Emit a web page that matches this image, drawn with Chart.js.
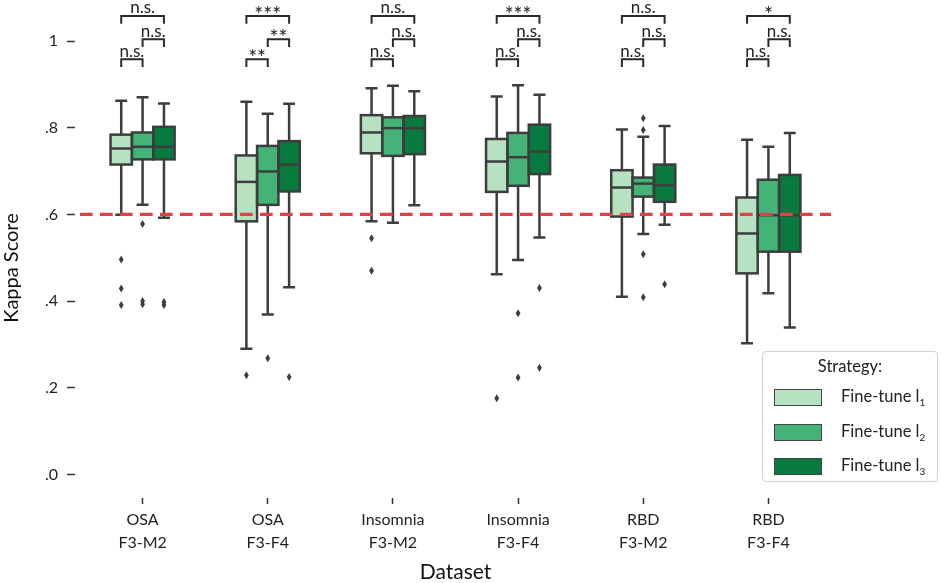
<!DOCTYPE html>
<html>
<head>
<meta charset="utf-8">
<script src="https://cdn.jsdelivr.net/npm/chart.js@4.4.1/dist/chart.umd.min.js"></script>
<style>
  html, body { margin: 0; padding: 0; background: #fff; }
  #wrap { position: relative; width: 941px; height: 583px; }
  canvas { display: block; }
  #legend {
    position: absolute; left: 762px; top: 351px; width: 176px; height: 131px;
    box-sizing: border-box; border: 1px solid #d2d2d2; border-radius: 4px;
    background: #fff; font-family: Lato, sans-serif; font-size: 16.5px; color: #222;
  }
  #legend .ttl { position: absolute; left: 0; right: 0; top: 4px; text-align: center; }
  #legend .row { position: absolute; left: 11px; height: 17px; }
  #legend .sw { position: absolute; left: 0; top: 0; width: 46px; height: 15px; border: 1px solid #444; }
  #legend .lb { position: absolute; left: 67px; top: -3px; white-space: nowrap; }
  #legend sub { font-size: 10px; }
</style>
</head>
<body>
<div id="wrap">
  <canvas id="kappaChart" width="941" height="583"></canvas>
  <div id="legend"><div class="ttl">Strategy:</div></div>
</div>
<script>
// categories (two-line tick labels)
const datasetNames = [['OSA', 'F3-M2'], ['OSA', 'F3-F4'], ['Insomnia', 'F3-M2'],
                      ['Insomnia', 'F3-F4'], ['RBD', 'F3-M2'], ['RBD', 'F3-F4']];
const strategyNames = ['1', '2', '3'];
// per dataset: [lower whisker, Q1, median, Q3, upper whisker]
const boxL1 = [
  [0.599, 0.715, 0.752, 0.784, 0.862],
  [0.290, 0.584, 0.675, 0.736, 0.860],
  [0.584, 0.741, 0.789, 0.829, 0.891],
  [0.462, 0.652, 0.722, 0.774, 0.872],
  [0.410, 0.595, 0.662, 0.702, 0.796],
  [0.303, 0.464, 0.556, 0.639, 0.772]
];
const boxL2 = [
  [0.622, 0.727, 0.756, 0.789, 0.870],
  [0.369, 0.622, 0.699, 0.758, 0.832],
  [0.581, 0.735, 0.799, 0.824, 0.897],
  [0.495, 0.666, 0.732, 0.788, 0.898],
  [0.555, 0.641, 0.671, 0.685, 0.779],
  [0.418, 0.514, 0.598, 0.680, 0.756]
];
const boxL3 = [
  [0.592, 0.727, 0.756, 0.802, 0.856],
  [0.432, 0.653, 0.715, 0.769, 0.855],
  [0.621, 0.739, 0.799, 0.827, 0.884],
  [0.547, 0.693, 0.745, 0.807, 0.876],
  [0.576, 0.629, 0.667, 0.715, 0.804],
  [0.339, 0.514, 0.598, 0.691, 0.788]
];
// outliers per dataset
const outL1 = [[0.496, 0.429, 0.391], [0.229], [0.545, 0.470], [0.176], [], []];
const outL2 = [[0.578, 0.400, 0.393], [0.268], [], [0.372, 0.224], [0.822, 0.795, 0.508, 0.409], []];
const outL3 = [[0.398, 0.391], [0.225], [], [0.430, 0.246], [0.439], []];
// significance marks: l1 vs l2, l2 vs l3, l1 vs l3
const sig12 = ['n.s.', '**', 'n.s.', 'n.s.', 'n.s.', 'n.s.'];
const sig23 = ['n.s.', '**', 'n.s.', 'n.s.', 'n.s.', 'n.s.'];
const sig13 = ['n.s.', '***', 'n.s.', '***', 'n.s.', '*'];
const yTicks = [0, 0.2, 0.4, 0.6, 0.8, 1];
const threshold = 0.6;

const colors = ['#b6e2c2', '#44b377', '#077a3f'];
const edge = '#3d3d3d';
const boxes = [boxL1, boxL2, boxL3];
const outliers = [outL1, outL2, outL3];

Chart.defaults.font.family = 'Lato, sans-serif';
Chart.defaults.color = '#222';

// legend (html)
const legend = document.getElementById('legend');
strategyNames.forEach((n, i) => {
  const row = document.createElement('div');
  row.className = 'row';
  row.style.top = (37 + i * 34.5) + 'px';
  row.innerHTML = `<span class="sw" style="background:${colors[i]}"></span><span class="lb">Fine-tune l<sub>${n}</sub></span>`;
  legend.appendChild(row);
});

const boxParts = {
  id: 'boxParts',
  beforeDatasetsDraw(chart) {
    // whiskers + caps
    const { ctx, scales: { y } } = chart;
    ctx.save();
    ctx.strokeStyle = edge;
    ctx.lineWidth = 2.5;
    boxes.forEach((rows, s) => {
      chart.getDatasetMeta(s).data.forEach((bar, j) => {
        const r = rows[j];
        const half = bar.width * 0.28;
        ctx.beginPath();
        ctx.moveTo(bar.x, y.getPixelForValue(r[3]));
        ctx.lineTo(bar.x, y.getPixelForValue(r[4]));
        ctx.moveTo(bar.x, y.getPixelForValue(r[1]));
        ctx.lineTo(bar.x, y.getPixelForValue(r[0]));
        ctx.moveTo(bar.x - half, y.getPixelForValue(r[4]));
        ctx.lineTo(bar.x + half, y.getPixelForValue(r[4]));
        ctx.moveTo(bar.x - half, y.getPixelForValue(r[0]));
        ctx.lineTo(bar.x + half, y.getPixelForValue(r[0]));
        ctx.stroke();
      });
    });
    ctx.restore();
  },
  afterDatasetsDraw(chart) {
    // box outline, median, outlier diamonds
    const { ctx, scales: { y } } = chart;
    ctx.save();
    ctx.strokeStyle = edge;
    ctx.fillStyle = edge;
    ctx.lineWidth = 2.5;
    boxes.forEach((rows, s) => {
      chart.getDatasetMeta(s).data.forEach((bar, j) => {
        const r = rows[j];
        const x0 = bar.x - bar.width / 2;
        const yq3 = y.getPixelForValue(r[3]);
        const yq1 = y.getPixelForValue(r[1]);
        ctx.strokeRect(x0, yq3, bar.width, yq1 - yq3);
        const ym = y.getPixelForValue(r[2]);
        ctx.beginPath();
        ctx.moveTo(x0, ym);
        ctx.lineTo(x0 + bar.width, ym);
        ctx.stroke();
        outliers[s][j].forEach(v => {
          const py = y.getPixelForValue(v);
          ctx.beginPath();
          ctx.moveTo(bar.x, py - 4);
          ctx.lineTo(bar.x + 2.4, py);
          ctx.lineTo(bar.x, py + 4);
          ctx.lineTo(bar.x - 2.4, py);
          ctx.closePath();
          ctx.fill();
        });
      });
    });
    ctx.restore();
  },
  afterDraw(chart) {
    const { ctx, chartArea, scales: { y } } = chart;
    ctx.save();
    // chance-level line
    ctx.strokeStyle = '#df4249';
    ctx.lineWidth = 3.3;
    ctx.setLineDash([12.7, 7.3]);
    const ty = y.getPixelForValue(threshold);
    ctx.beginPath();
    ctx.moveTo(chartArea.left, ty);
    ctx.lineTo(chartArea.right, ty);
    ctx.stroke();
    ctx.setLineDash([]);

    // significance brackets
    const m = [0, 1, 2].map(s => chart.getDatasetMeta(s).data);
    const pairs = [[0, 1, sig12, 0.958], [1, 2, sig23, 1.004], [0, 2, sig13, 1.058]];
    ctx.strokeStyle = '#2a2a2a';
    ctx.fillStyle = '#222';
    ctx.lineWidth = 2;
    ctx.textAlign = 'center';
    ctx.textBaseline = 'alphabetic';
    datasetNames.forEach((_, j) => {
      pairs.forEach(([a, b, sig, lvl]) => {
        const xa = m[a][j].x, xb = m[b][j].x;
        const yt = y.getPixelForValue(lvl);
        const yl = y.getPixelForValue(lvl - 0.018);
        ctx.beginPath();
        ctx.moveTo(xa, yl);
        ctx.lineTo(xa, yt);
        ctx.lineTo(xb, yt);
        ctx.lineTo(xb, yl);
        ctx.stroke();
        const stars = sig[j] !== 'n.s.';
        ctx.font = stars ? '21px Lato' : '17px Lato';
        ctx.fillText(sig[j], (xa + xb) / 2, yt + (stars ? 6 : -2.5));
      });
    });

    // y title, centred like the original axes box
    ctx.translate(12, 268);
    ctx.rotate(-Math.PI / 2);
    ctx.font = '20px Lato';
    ctx.textBaseline = 'middle';
    ctx.fillStyle = '#111';
    ctx.fillText('Kappa Score', 0, 0);
    ctx.restore();
  }
};

const fmtTick = v => (Math.abs(v - 1) < 1e-9 ? '1' : v.toFixed(1).replace(/^0/, ''));

new Chart(document.getElementById('kappaChart').getContext('2d'), {
  type: 'bar',
  data: {
    labels: datasetNames,
    datasets: boxes.map((rows, i) => ({
      label: 'Fine-tune l' + strategyNames[i],
      data: rows.map(r => [r[1], r[3]]),
      backgroundColor: colors[i],
      borderWidth: 0,
      categoryPercentage: 0.512,
      barPercentage: 1
    }))
  },
  options: {
    responsive: false,
    animation: false,
    events: [],
    layout: { padding: { top: 4, right: 110, left: 0, bottom: 0 } },
    plugins: { legend: { display: false }, tooltip: { enabled: false } },
    scales: {
      x: {
        grid: {
          display: true, offset: false, drawOnChartArea: false, drawTicks: true,
          tickLength: 14, tickWidth: 1.5, tickColor: '#333',
          tickBorderDash: [0, 8, 6, 100]
        },
        border: { display: false },
        ticks: { font: { size: 16, lineHeight: 1.44 }, color: '#222', padding: 4.5, maxRotation: 0 },
        title: { display: true, text: 'Dataset', font: { size: 21, lineHeight: 1 }, color: '#111', padding: 0 },
        afterFit: s => { s.height = 93; s.paddingLeft = 0; s.paddingRight = 0; }
      },
      y: {
        min: -0.0358,
        max: 1.0854,
        afterBuildTicks: s => { s.ticks = yTicks.map(v => ({ value: v })); },
        grid: {
          display: true, drawOnChartArea: false, drawTicks: true,
          tickLength: 13, tickWidth: 1.5, tickColor: '#333',
          tickBorderDash: [8, 100]
        },
        border: { display: false },
        ticks: { font: { size: 16 }, color: '#222', padding: 9, callback: v => fmtTick(v) },
        afterFit: s => { s.width = 80; s.paddingTop = 0; s.paddingBottom = 0; }
      }
    }
  },
  plugins: [boxParts]
});
</script>
</body>
</html>
